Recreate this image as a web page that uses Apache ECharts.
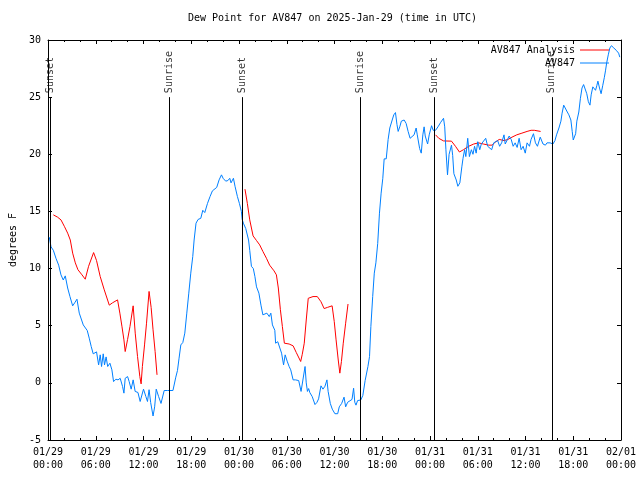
<!DOCTYPE html>
<html>
<head>
<meta charset="utf-8">
<script src="https://cdn.jsdelivr.net/npm/echarts@6/dist/echarts.min.js"></script>
<style>html,body{margin:0;padding:0;background:#fff}#c{width:640px;height:480px}</style>
</head>
<body>
<div id="c"></div>
<script>
// Hours since 2025-01-29 00:00 UTC
var xTickLabels = ["01/29\n00:00","01/29\n06:00","01/29\n12:00","01/29\n18:00","01/30\n00:00","01/30\n06:00","01/30\n12:00","01/30\n18:00","01/31\n00:00","01/31\n06:00","01/31\n12:00","01/31\n18:00","02/01\n00:00"];

var eventHours = [0.3, 15.2, 24.4, 39.2, 48.5, 63.3];
var eventLabels = ["Sunset","Sunrise","Sunset","Sunrise","Sunset","Sunrise"];

var anaHours = [0.67,1.2,1.63,2.05,2.47,2.8,3.1,3.43,3.76,4.27,4.68,5.1,5.73,6.1,6.56,7.07,7.7,8.1,8.74,9.03,9.3,9.54,9.7,10.0,10.3,10.7,10.96,11.25,11.54,11.7,11.86,12.13,12.38,12.7,12.96,13.2,13.46,13.7,
  19,
  24.75,25.05,25.35,25.77,26.2,26.6,27.0,27.45,27.85,28.4,28.7,28.94,29.2,29.45,29.7,29.86,30.3,30.8,31.2,31.75,31.95,32.2,32.45,32.7,32.8,33.3,33.84,34.3,34.7,35.1,35.7,35.97,36.2,36.47,36.67,36.87,37.1,37.4,37.7,
  43,
  48.7,49.1,49.7,50.7,51.2,51.7,52.2,52.86,53.5,54.1,54.7,55.4,55.8,56.2,56.7,57.3,57.8,58.3,58.9,59.55,60.2,60.7,61.1,61.9];
var anaValues = [14.7,14.5,14.26,13.7,13.1,12.5,11.35,10.5,9.9,9.45,9.07,10.2,11.4,10.7,9.3,8.14,6.8,7.0,7.26,6.1,4.9,3.76,2.74,3.8,4.93,6.74,4.35,2.3,0.55,-0.09,1.43,3.32,5.22,8.0,6.6,4.64,2.74,0.7,
  null,
  16.95,15.7,14.26,12.86,12.45,12.07,11.5,10.9,10.3,9.8,9.45,8.3,6.4,4.93,3.47,3.4,3.4,3.24,2.65,1.87,2.5,3.47,5.5,7.4,7.5,7.55,7.55,7.1,6.5,6.6,6.74,5.36,3.76,2.0,0.85,1.87,3.47,5.22,6.9,
  null,
  21.7,21.4,21.17,21.15,20.7,20.2,20.4,20.7,20.9,21.0,20.9,20.8,20.8,21.06,21.3,21.2,21.3,21.5,21.7,21.85,22.0,22.1,22.1,22.0];

var dewHours = [0.16,0.38,0.67,1.0,1.34,1.63,1.92,2.17,2.47,2.76,3.1,3.35,3.64,3.93,4.18,4.43,4.68,4.93,5.18,5.43,5.68,5.93,6.1,6.36,6.56,6.73,6.94,7.1,7.3,7.5,7.78,8.03,8.24,8.53,8.8,9.07,9.37,9.54,9.7,10.0,10.2,10.45,10.7,10.95,11.3,11.58,11.8,12.0,12.3,12.5,12.7,12.9,13.2,13.4,13.6,13.9,14.2,14.4,14.6,15.0,15.7,
  16.06,16.27,16.47,16.69,16.94,17.19,17.44,17.69,17.94,18.19,18.36,18.6,18.86,19.2,19.45,19.7,20.04,20.36,20.66,20.9,21.2,21.5,21.8,22.0,22.33,22.6,22.84,23.0,23.3,23.5,23.8,24.05,24.3,24.4,24.55,24.85,25.2,25.35,25.56,25.8,26.0,26.2,26.5,26.76,27.0,27.25,27.5,27.8,28.0,28.2,28.5,28.6,28.87,29.1,29.35,29.6,29.8,30.05,30.3,30.5,30.8,31.1,31.5,31.8,32.0,32.3,32.45,32.6,32.75,32.9,33.2,33.55,33.8,34.0,34.3,34.55,34.8,35.05,35.2,35.47,35.72,36.05,36.4,36.6,36.9,37.2,37.4,37.65,37.9,38.2,38.4,38.55,38.7,38.9,39.3,39.56,39.85,
  40.2,40.4,40.57,40.8,41.0,41.2,41.43,41.65,41.86,42.07,42.24,42.5,42.74,42.95,43.25,43.45,43.66,43.85,44.0,44.2,44.4,44.75,45.0,45.25,45.5,45.75,46.0,46.26,46.4,46.7,46.9,47.1,47.26,47.4,47.7,47.9,48.2,48.4,48.7,49.0,49.35,49.7,49.85,50.0,50.2,50.4,50.7,50.85,51.0,51.3,51.5,51.75,52.0,52.15,52.35,52.5,52.74,52.95,53.2,53.4,53.6,53.8,54.0,54.25,54.45,54.7,55.0,55.25,55.5,55.75,56.0,56.25,56.5,56.75,57.0,57.3,57.45,57.7,57.95,58.2,58.45,58.7,58.95,59.2,59.45,59.7,59.97,60.2,60.5,60.7,61.0,61.25,61.5,61.85,62.2,62.5,62.7,63.1,63.45,63.7,63.9,64.2,64.45,64.6,64.8,65.0,65.25,65.45,65.7,65.87,66.0,66.3,66.45,66.7,66.9,67.1,67.3,67.5,67.7,67.9,68.1,68.25,68.46,68.7,68.8,68.96,69.1,69.3,69.5,69.7,69.9,70.05,70.2,70.4,70.6,70.8,71.1,71.4,71.7,71.85];
var dewValues = [12.75,11.9,11.6,10.9,10.3,9.45,9.0,9.36,8.3,7.55,6.74,7.0,7.32,6.1,5.95,5.07,5.16,4.58,3.91,3.18,2.54,2.71,2.71,1.57,2.45,1.43,2.54,1.57,2.27,1.43,1.72,1.14,0.11,0.32,0.26,0.4,-0.32,-0.9,0.4,0.55,0.11,-0.55,0.26,-0.75,-0.84,-1.63,-1.72,-0.55,-1.2,-1.63,-0.6,-1.72,-2.9,-2.1,-0.55,-1.2,-1.8,-1.63,-0.67,-0.67,-0.67,
  0.5,1.08,2.16,3.32,3.53,4.35,6.1,7.85,9.6,11.05,12.5,13.97,14.3,14.4,15.1,14.9,15.7,16.3,16.8,16.7,17.1,17.76,18.2,17.9,17.65,17.7,17.9,17.5,17.9,17.2,16.3,15.7,15.0,14.3,13.97,13.5,12.5,11.6,10.2,10.0,9.3,8.4,7.85,6.8,5.95,5.95,6.1,5.8,6.1,5.07,4.6,3.47,3.6,3.7,2.6,1.57,2.45,1.9,1.43,1.14,0.26,0.26,0.2,-0.75,-0.67,1.43,0.0,-0.75,-0.5,-0.85,-1.2,-1.9,-1.7,-1.4,-0.26,-0.55,-0.3,0.26,-0.75,-1.8,-2.3,-2.7,-2.7,-2.1,-1.8,-1.25,-2.1,-1.7,-1.7,-1.45,-0.47,-1.7,-1.95,-1.55,-1.5,-1.1,0.2,
  1.43,2.3,4.93,7.55,9.6,10.5,12.2,14.85,16.6,17.9,19.6,19.6,21.3,22.3,23.0,23.45,23.65,22.6,22.0,22.4,22.9,23.0,22.7,22.0,21.4,21.3,21.7,22.3,21.7,20.5,20.1,21.7,22.4,21.6,20.9,21.7,22.5,22.1,22.1,22.4,22.8,23.15,22.4,20.4,18.2,20.0,20.8,19.9,18.3,17.75,17.2,17.5,18.9,19.65,20.4,19.8,21.4,19.8,20.4,20.0,20.7,20.1,21.1,20.4,20.9,20.85,21.4,20.7,20.8,20.4,21.0,20.9,21.2,20.7,21.0,21.7,20.9,20.85,21.6,21.3,20.7,21.0,20.6,21.4,20.4,20.7,20.1,21.0,20.7,21.3,21.8,21.0,20.7,21.5,20.9,20.8,21.0,21.0,20.9,21.2,21.7,22.3,22.9,23.6,24.3,24.3,23.7,23.45,23.0,22.0,21.25,21.8,22.9,23.7,24.9,25.8,26.1,26.0,25.3,24.6,24.3,25.2,25.9,26.0,25.6,26.0,26.4,25.8,25.3,26.0,26.7,27.3,28.0,28.7,29.3,29.5,29.3,29.1,28.85,28.5];

var yMin = -5, yMax = 30, eventTop = 25;
var FONT = "DejaVu Sans Mono";

function pairs(xs, ys) { return xs.map(function (x, i) { return [x, ys[i]]; }); }

var chart = echarts.init(document.getElementById('c'), null, {renderer: 'canvas'});
var axisCommon = {
  type: 'value',
  axisLine: {show: true, onZero: false, lineStyle: {color: '#000', width: 1}},
  axisTick: {show: true, inside: true, length: 4, lineStyle: {color: '#000', width: 1}},
  splitLine: {show: false}
};
var legendCommon = {orient: 'vertical', right: 31, padding: 0, align: 'right', icon: 'rect',
  itemWidth: 29, itemHeight: 1, itemGap: 0,
  textStyle: {fontFamily: FONT, fontSize: 10, color: '#000'}};
chart.setOption({
  animation: false,
  backgroundColor: '#fff',
  title: {
    text: 'Dew Point for AV847 on 2025-Jan-29 (time in UTC)',
    left: 188, top: 13, padding: 0,
    textStyle: {fontFamily: FONT, fontSize: 10, fontWeight: 'normal', color: '#000'}
  },
  legend: [
    Object.assign({}, legendCommon, {data: ['AV847 Analysis'], top: 45}),
    Object.assign({}, legendCommon, {data: ['AV847'], top: 58})
  ],
  grid: {left: 47, right: 19, top: 40, bottom: 40, containLabel: false},
  xAxis: [
    Object.assign({}, axisCommon, {
      position: 'bottom', min: 0, max: 72, interval: 6,
      minorTick: {show: true, splitNumber: 3, length: 2, lineStyle: {color: '#000'}},
      axisLabel: {color: '#000', fontFamily: FONT, fontSize: 10, lineHeight: 13, margin: 6,
        formatter: function (v) { return xTickLabels[Math.round(v / 6)]; }}
    }),
    Object.assign({}, axisCommon, {
      position: 'top', min: 0, max: 72, interval: 6,
      minorTick: {show: true, splitNumber: 3, length: 2, lineStyle: {color: '#000'}},
      axisLabel: {show: false}
    })
  ],
  yAxis: [
    Object.assign({}, axisCommon, {
      position: 'left', min: yMin, max: yMax, interval: 5,
      name: 'degrees F', nameLocation: 'middle', nameRotate: 90, nameGap: 30,
      nameTextStyle: {fontFamily: FONT, fontSize: 10, color: '#000'},
      axisLabel: {color: '#000', fontFamily: FONT, fontSize: 10, margin: 7}
    }),
    Object.assign({}, axisCommon, {
      position: 'right', min: yMin, max: yMax, interval: 5,
      axisLabel: {show: false}
    })
  ],
  series: [
    {
      name: 'events', type: 'scatter', silent: true, symbolSize: 0,
      data: eventHours.map(function (h, i) { return {name: eventLabels[i], value: [h, eventTop]}; }),
      label: {show: true, formatter: '{b}', position: 'top', distance: 4, rotate: 90,
        align: 'left', verticalAlign: 'middle', fontFamily: FONT, fontSize: 10, color: '#000'},
      markLine: {
        silent: true, symbol: 'none', animation: false,
        label: {show: false},
        lineStyle: {color: '#000', width: 1, type: 'solid'},
        data: eventHours.map(function (h) { return [{coord: [h, eventTop]}, {coord: [h, yMin]}]; })
      }
    },
    {
      name: 'AV847 Analysis', type: 'line', showSymbol: false, symbol: 'none',
      connectNulls: false,
      lineStyle: {color: '#ff0000', width: 1}, itemStyle: {color: '#ff0000'},
      data: pairs(anaHours, anaValues)
    },
    {
      name: 'AV847', type: 'line', showSymbol: false, symbol: 'none',
      lineStyle: {color: '#0080ff', width: 1}, itemStyle: {color: '#0080ff'},
      data: pairs(dewHours, dewValues)
    }
  ]
});
</script>
</body>
</html>
